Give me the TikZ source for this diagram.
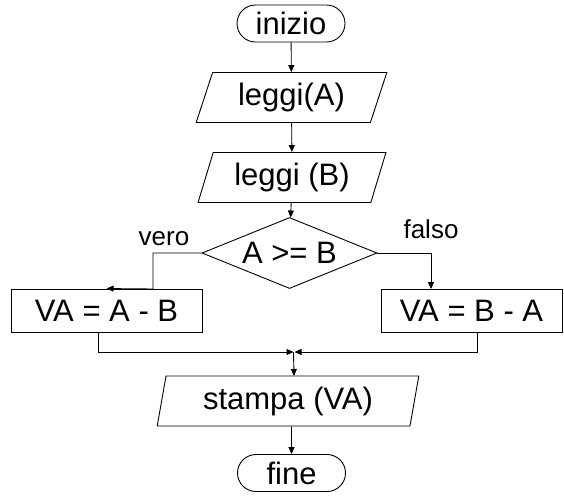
\documentclass[tikz,border=0pt]{standalone}
\usepackage{fontspec}
\setmainfont{Liberation Sans}
\usetikzlibrary{arrows.meta}
\usetikzlibrary{shapes.geometric}
\usetikzlibrary{shapes.misc}

\begin{document}
\begin{tikzpicture}[x=1pt, y=-1pt,
		line width=0.9pt,
		terminal/.style={draw, rounded rectangle, minimum width=108pt, minimum height=37pt, inner sep=0pt, font=\fontsize{31}{36}\selectfont},
		io/.style={draw, trapezium, trapezium stretches=true, trapezium left angle=#1, trapezium right angle=180-#1, minimum height=50pt, inner sep=0pt, font=\fontsize{31}{36}\selectfont},
		process/.style={draw, rectangle, minimum height=43pt, inner sep=0pt, font=\fontsize{31}{36}\selectfont},
		decision/.style={draw, diamond, shape aspect=2.46, minimum width=175pt, minimum height=71pt, inner sep=0pt, font=\fontsize{31}{36}\selectfont},
		flow/.style={-{Triangle[length=7pt, width=6pt]}},
		branch/.style={font=\fontsize{26}{30}\selectfont},
	]
		\useasboundingbox (0,0) rectangle (564,496);

		\node[terminal] (start) at (291,23.5) {inizio};
		\node[io=69, minimum width=191pt] (readA) at (291.5,97.5) {leggi(A)};
		\node[io=69, minimum width=188pt] (readB) at (292,177.5) {leggi (B)};
		\node[decision] (test) at (289.5,253) {A >= B};
		\node[process, minimum width=191pt] (diffAB) at (106.5,310.5) {VA = A - B};
		\node[process, minimum width=181pt] (diffBA) at (471.5,310.5) {VA = B - A};
		\node[io=78, minimum width=262pt] (print) at (288,401) {stampa (VA)};
		\node[terminal] (stop) at (291.5,473) {fine};

		\node[branch] (lbltrue) at (164,239) {vero};
		\node[branch] (lblfalse) at (431,229) {falso};

		\coordinate (trueturn) at (153,289);
		\coordinate (falsetop) at (431,289);
		\coordinate (leftdrop) at (98,352);
		\coordinate (rightdrop) at (477,352);
		\coordinate (joinL) at (293.5,352);
		\coordinate (joinR) at (294.5,352);
		\coordinate (joindown) at (294,376);

		\draw[flow] (start) -- (readA);
		\draw[flow] (readA) -- (readB);
		\draw[flow] (readB) -- (test);

		\draw[flow] (test.west) -| (trueturn) -- (diffAB.north);
		\draw[flow] (test.east) -| (falsetop);

		\draw[flow] (diffAB.south -| leftdrop) |- (joinL);
		\draw[flow] (diffBA.south -| rightdrop) |- (joinR);
		\draw[flow] (joinL) -- (joindown);

		\draw[flow] (print.south -| stop) -- (stop);
	\end{tikzpicture}
\end{document}
